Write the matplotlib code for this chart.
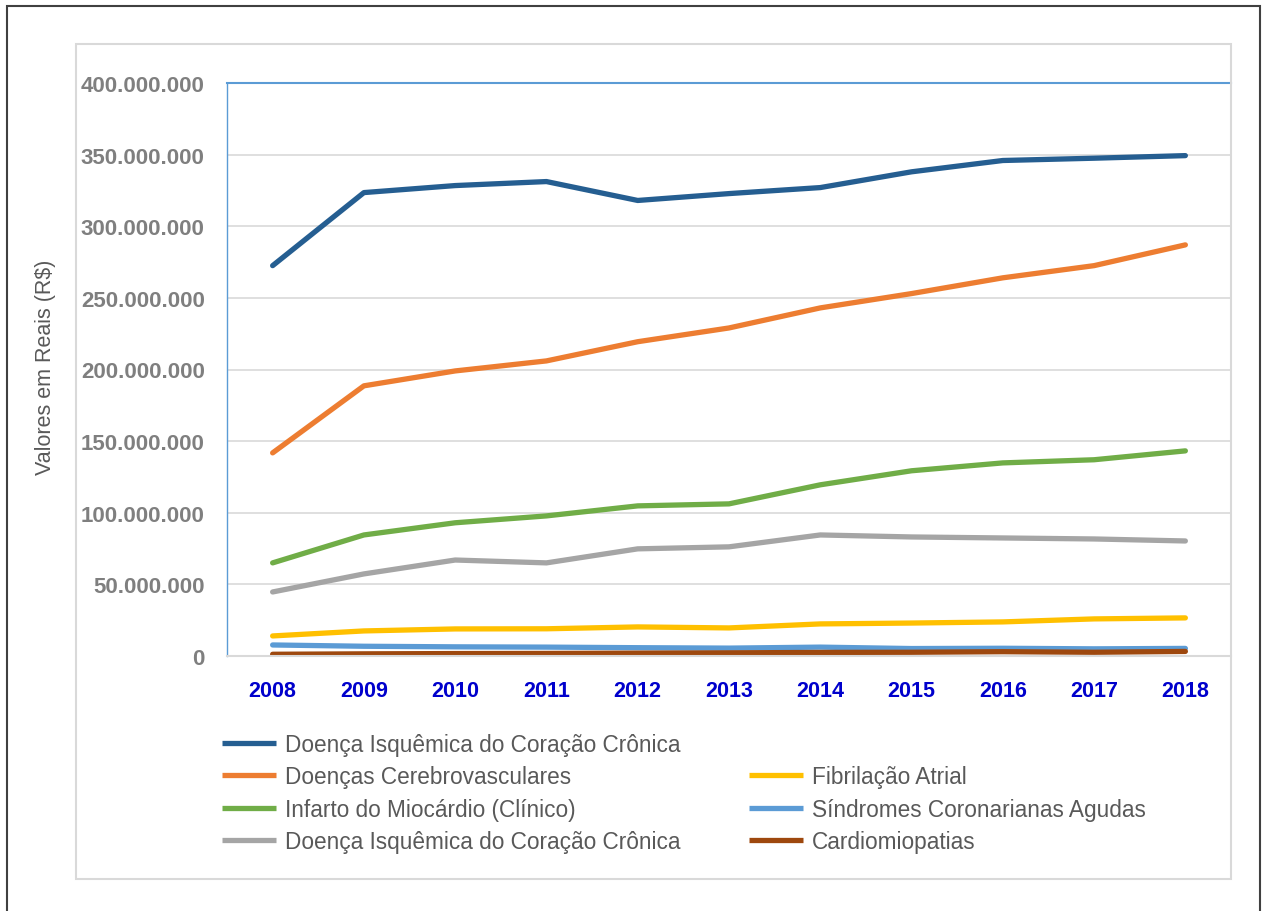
import matplotlib

matplotlib.use("Agg")
import matplotlib.pyplot as plt
from matplotlib.lines import Line2D
from matplotlib.patches import Rectangle
from matplotlib.ticker import FuncFormatter

years = [2008, 2009, 2010, 2011, 2012, 2013, 2014, 2015, 2016, 2017, 2018]

isquemica_cronica = [272.5, 323.5, 328.4, 331.2, 318.0, 322.8, 327.0, 338.0, 345.9, 347.5, 349.3]
cerebrovasculares = [141.8, 188.6, 199.0, 206.0, 219.4, 229.0, 243.0, 253.0, 264.0, 272.5, 287.0]
infarto = [65.0, 84.5, 93.0, 97.8, 104.8, 106.2, 119.5, 129.3, 134.8, 137.0, 143.2]
isquemica_cronica_2 = [44.7, 57.3, 67.0, 65.0, 74.8, 76.2, 84.5, 83.1, 82.4, 81.7, 80.3]
fibrilacao = [14.0, 17.5, 18.9, 19.0, 20.3, 19.6, 22.4, 23.0, 23.8, 25.9, 26.6]
sindromes = [7.7, 6.8, 6.4, 6.2, 5.8, 5.5, 6.2, 5.2, 5.4, 5.0, 5.3]
cardiomiopatias = [1.2, 1.5, 1.7, 1.8, 2.0, 2.2, 2.5, 2.6, 3.0, 2.6, 3.2]

series = [
    ("Doença Isquêmica do Coração Crônica", isquemica_cronica, "#255E91"),
    ("Doenças Cerebrovasculares", cerebrovasculares, "#ED7D31"),
    ("Infarto do Miocárdio (Clínico)", infarto, "#70AD47"),
    ("Doença Isquêmica do Coração Crônica", isquemica_cronica_2, "#A5A5A5"),
    ("Fibrilação Atrial", fibrilacao, "#FFC000"),
    ("Síndromes Coronarianas Agudas", sindromes, "#5B9BD5"),
    ("Cardiomiopatias", cardiomiopatias, "#9E480E"),
]

W, H = 1267, 912
fig = plt.figure(figsize=(W / 100, H / 100), dpi=100)

# outer dark frame and inner light frame
fig.patches.append(Rectangle((7 / W, -0.05), 1253 / W, (905 / H) + 0.05, transform=fig.transFigure,
                             fill=False, edgecolor="#404040", linewidth=1.5))
fig.patches.append(Rectangle((76 / W, 1 - 880 / H), 1155 / W, 835 / H, transform=fig.transFigure,
                             fill=False, edgecolor="#D9D9D9", linewidth=1.5))

ax = fig.add_axes([227 / W, 1 - 657 / H, 1004 / W, 573 / H])

handles = {}
for label, values, color in series:
    vals = [v * 1e6 for v in values]
    (line,) = ax.plot(years, vals, color=color, linewidth=3.8, solid_capstyle="round", label=label)
    handles[color] = line

ax.set_xlim(2007.5, 2018.5)
ax.set_ylim(0, 400e6)
ax.set_yticks([i * 50e6 for i in range(9)])
ax.set_xticks(years)
ax.yaxis.set_major_formatter(FuncFormatter(lambda v, _: f"{int(v):,}".replace(",", ".")))
ax.grid(axis="y", color="#D9D9D9", linewidth=1.2)
ax.set_axisbelow(True)
ax.tick_params(axis="both", length=0)
ax.tick_params(axis="y", pad=16, labelcolor="#7F7F7F", labelsize=16)
ax.tick_params(axis="x", pad=17, labelcolor="#0000CC", labelsize=15.5)
for lab in ax.get_yticklabels() + ax.get_xticklabels():
    lab.set_fontweight("bold")
    lab.set_fontfamily("Liberation Sans")

ax.spines["right"].set_visible(False)
ax.spines["top"].set_color("#5B9BD5")
ax.spines["top"].set_linewidth(1.5)
ax.spines["left"].set_color("#5B9BD5")
ax.spines["left"].set_linewidth(1.0)
ax.spines["bottom"].set_color("#D9D9D9")
ax.spines["bottom"].set_linewidth(1.5)

fig.text(46 / W, 1 - 367 / H, "Valores em Reais (R$)", rotation=90, ha="center", va="center",
         fontsize=15.5, color="#595959", family="Liberation Sans")

blank = Line2D([], [], color="none")
order = [
    handles["#255E91"], handles["#ED7D31"], handles["#70AD47"], handles["#A5A5A5"],
    blank, handles["#FFC000"], handles["#5B9BD5"], handles["#9E480E"],
]
labels = [h.get_label() if h is not blank else "" for h in order]
leg = fig.legend(order, labels, ncol=2, loc="upper left", bbox_to_anchor=(222 / W, 1 - 734 / H),
                 frameon=False, borderpad=0, borderaxespad=0, handlelength=2.4, handletextpad=0.4,
                 labelspacing=0.41, columnspacing=3.0,
                 prop={"family": "Liberation Sans", "size": 16.3})
for t in leg.get_texts():
    t.set_color("#595959")
for h in leg.legend_handles:
    h.set_linewidth(3.8)
    h.set_solid_capstyle("butt")

fig.savefig("out.png", dpi=100)
